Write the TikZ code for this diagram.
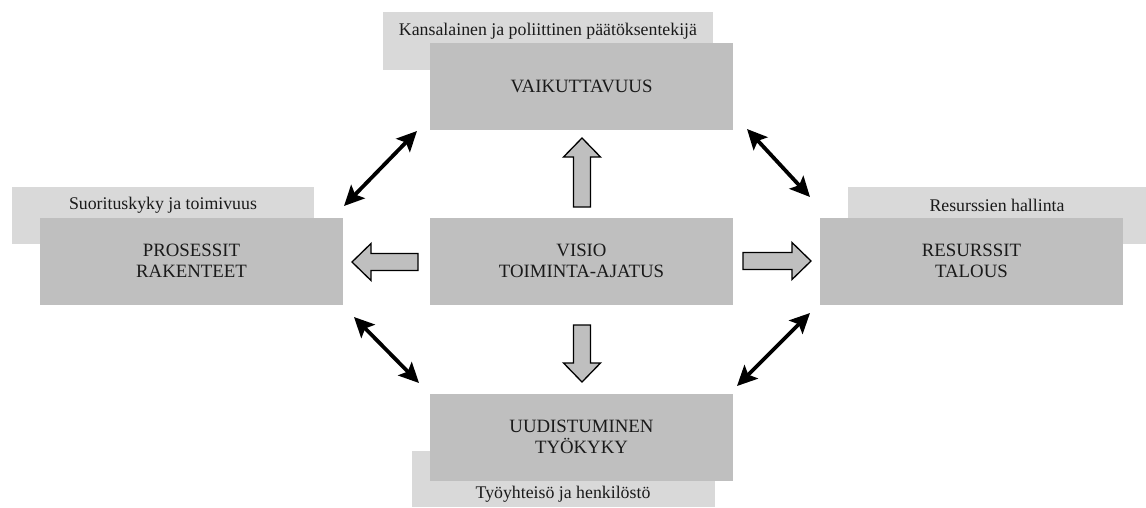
\documentclass[tikz,border=0pt]{standalone}
\usepackage{fontspec}
\setmainfont{Liberation Serif}
\usetikzlibrary{arrows.meta}
\definecolor{labelgray}{HTML}{D9D9D9}
\definecolor{boxgray}{HTML}{BFBFBF}
\definecolor{txt}{HTML}{1A1A1A}
\tikzset{
  labelbox/.style={fill=labelgray, draw=none},
  mainbox/.style={fill=boxgray, draw=none, minimum width=303pt, minimum height=87pt,
    inner sep=0pt, align=center, text=txt, font=\fontsize{18.8}{20.5}\selectfont},
  labeltext/.style={inner sep=0pt, text=txt, font=\fontsize{17.8}{20}\selectfont},
  link/.style={line width=3.8pt, {Stealth[length=20pt,width=19pt,inset=4pt]}-{Stealth[length=20pt,width=19pt,inset=4pt]}},
  blockarrow/.style={fill=boxgray, draw=black, line width=1.3pt, line join=miter},
}
% block arrow pointing along +x from the origin, drawn rotated and shifted
\newcommand{\blockarr}[3]{% #1 = tail point, #2 = angle, #3 = length
  \draw[blockarrow, shift={#1}, rotate=#2]
    (0,-8.5) -- ({#3-19},-8.5) -- ({#3-19},-18.5) -- (#3,0) -- ({#3-19},18.5)
    -- ({#3-19},8.5) -- (0,8.5) -- cycle;}
\begin{document}
\begin{tikzpicture}[x=1pt,y=-1pt]
  \useasboundingbox (0,0) rectangle (1146,507);

  % stacked label cards behind the main boxes
  \fill[labelbox] (383,12) rectangle (713,70);
  \fill[labelbox] (12,187) rectangle (314,244);
  \fill[labelbox] (848,187) rectangle (1146,244);
  \fill[labelbox] (412,451) rectangle (715,507);

  \node[labeltext] (lt) at (548,31) {Kansalainen ja poliittinen päätöksentekijä};
  \node[labeltext] (ll) at (163,205) {Suorituskyky ja toimivuus};
  \node[labeltext] (lr) at (997,205) {Resurssien hallinta};
  \node[labeltext] (lb) at (563,494) {Työyhteisö ja henkilöstö};

  % main boxes
  \node[mainbox] (top) at (581.5,86) {VAIKUTTAVUUS};
  \node[mainbox] (left) at (191.5,261) {PROSESSIT\\RAKENTEET};
  \node[mainbox] (center) at (581.5,261) {VISIO\\TOIMINTA-AJATUS};
  \node[mainbox] (right) at (971.5,261) {RESURSSIT\\TALOUS};
  \node[mainbox] (bottom) at (581.5,437) {UUDISTUMINEN\\TYÖKYKY};

  % block arrows out of the centre
  \blockarr{(582,207)}{90}{69}
  \blockarr{(582,325)}{-90}{57}
  \blockarr{(418,262)}{180}{66}
  \blockarr{(743,261)}{0}{68}

  % double-headed links between the outer boxes
  \coordinate (ula) at (417,131);
  \coordinate (ulb) at (344,206);
  \coordinate (ura) at (747,129);
  \coordinate (urb) at (810,197);
  \coordinate (lla) at (354,317);
  \coordinate (llb) at (419,383);
  \coordinate (lra) at (737,386);
  \coordinate (lrb) at (810,313);
  \draw[link] (ula) -- (ulb);
  \draw[link] (ura) -- (urb);
  \draw[link] (lla) -- (llb);
  \draw[link] (lra) -- (lrb);
\end{tikzpicture}
\end{document}
